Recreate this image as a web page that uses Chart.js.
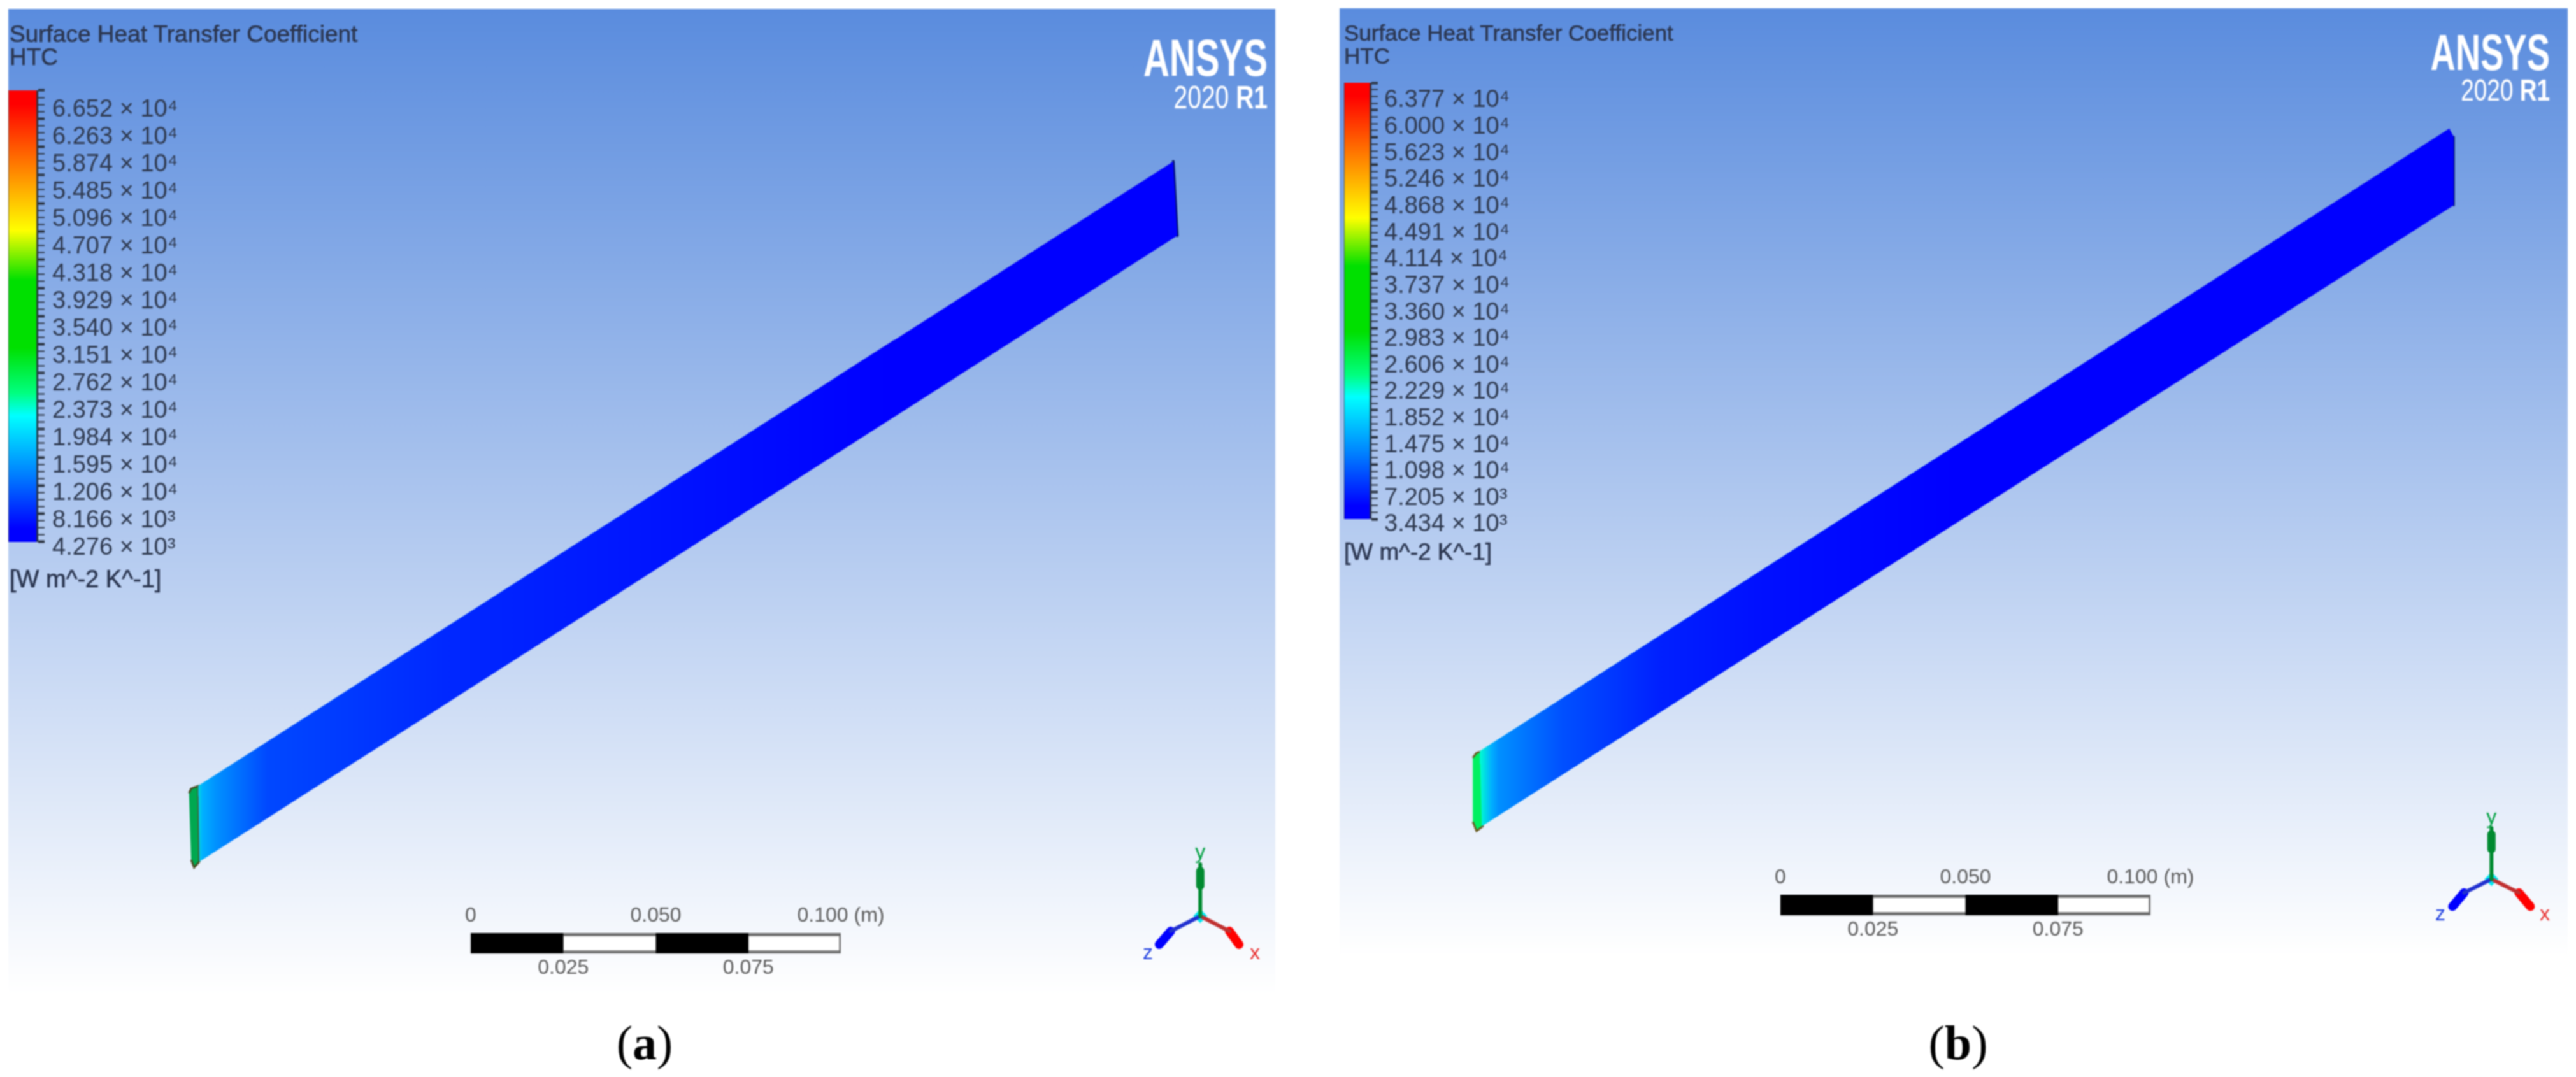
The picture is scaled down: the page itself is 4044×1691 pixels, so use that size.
<!DOCTYPE html>
<html>
<head>
<meta charset="utf-8">
<title>Surface Heat Transfer Coefficient</title>
<script src="https://cdn.jsdelivr.net/npm/chart.js@4"></script>
<style>
  html, body { margin: 0; padding: 0; background: #fff; }
  #page { position: relative; width: 4044px; height: 1691px; overflow: hidden; filter: blur(1px); }
  .panel { position: absolute; background: linear-gradient(to bottom, #5a8cde 0%, #ffffff 100%); }
  canvas { position: absolute; display: block; }
  .txt { position: absolute; white-space: nowrap; font-family: "Liberation Sans", Arial, sans-serif; color: #2b3650; line-height: 40px; -webkit-text-stroke: 0.6px #2b3650; }
  .logo { position: absolute; color: #fff; font-family: "Liberation Sans", Arial, sans-serif; white-space: nowrap; transform-origin: right center; text-align: right; }
  .cap { position: absolute; font-family: "Liberation Serif", "Times New Roman", serif; font-size: 76px; line-height: 90px; color: #000; transform: translateX(-50%); }
</style>
</head>
<body>
<div id="page"></div>
<script>
// colour bar tick labels, W m^-2 K^-1
const htcTicksA = [66520, 62630, 58740, 54850, 50960, 47070, 43180, 39290, 35400, 31510, 27620, 23730, 19840, 15950, 12060, 8166, 4276];
const htcTicksB = [63770, 60000, 56230, 52460, 48680, 44910, 41140, 37370, 33600, 29830, 26060, 22290, 18520, 14750, 10980, 7205, 3434];

// scale bar, metres
const scaleSegments = [0.025, 0.025, 0.025, 0.025];
const scaleTicksTop = [0, 0.05, 0.1];
const scaleTicksBottom = [0.025, 0.075];

// plate outlines in projected metres, origin at the lower inlet corner
const plateA = [{x: 0.0016, y: 0.0212}, {x: 0.2655, y: 0.1903}, {x: 0.2666, y: 0.1702}, {x: 0.0019, y: 0.0007}];
const plateTopBandA = [{x: 0.0016, y: 0.0212}, {x: 0.1900, y: 0.1420}, {x: 0.1900, y: 0.1392}, {x: 0.0016, y: 0.0184}];
const inletA = [{x: -0.0009, y: 0.0193}, {x: -0.0003, y: 0.0205}, {x: 0.0016, y: 0.0212}, {x: 0.0019, y: 0.0007}, {x: 0.0005, y: -0.0009}, {x: -0.0003, y: 0.0012}];
const outletEdgeA = [{x: 0.2655, y: 0.1903}, {x: 0.2666, y: 0.1702}];

const plateB = [{x: 0.0009, y: 0.0213}, {x: 0.2628, y: 0.1895}, {x: 0.2640, y: 0.1873}, {x: 0.2640, y: 0.1688}, {x: 0.0014, y: 0.0010}];
const plateTopBandB = [{x: 0.0009, y: 0.0213}, {x: 0.2300, y: 0.1685}, {x: 0.2300, y: 0.1650}, {x: 0.0009, y: 0.0178}];
const plateBottomBandB = [{x: 0.0014, y: 0.0034}, {x: 0.1600, y: 0.1048}, {x: 0.1600, y: 0.1024}, {x: 0.0014, y: 0.0010}];
const inletB = [{x: -0.0010, y: 0.0195}, {x: 0, y: 0.0208}, {x: 0.0016, y: 0.0213}, {x: 0.0017, y: 0.0010}, {x: 0, y: -0.0003}, {x: -0.0010, y: 0.0022}];
const inletCoreB = [{x: 0.0007, y: 0.0180}, {x: 0.0007, y: 0.0030}];
const outletEdgeB = [{x: 0.2640, y: 0.1873}, {x: 0.2640, y: 0.1688}];

// axis triad in the same metres
const triadCentreA = [{x: 0.2728, y: -0.0140}];
const triadYA = [{x: 0.2728, y: -0.0140}, {x: 0.2728, y: 0.0000}];
const triadYHeadA = [{x: 0.2728, y: -0.0058}, {x: 0.2728, y: -0.0018}];
const triadZA = [{x: 0.2728, y: -0.0140}, {x: 0.2648, y: -0.0181}, {x: 0.2617, y: -0.0217}];
const triadXA = [{x: 0.2728, y: -0.0140}, {x: 0.2807, y: -0.0181}, {x: 0.2833, y: -0.0217}];
const triadLabelsA = {y: {x: 0.2728, y: 0.0030}, z: {x: 0.2586, y: -0.0241}, x: {x: 0.2876, y: -0.0241}};

const triadCentreB = [{x: 0.2742, y: -0.0133}];
const triadYB = [{x: 0.2742, y: -0.0133}, {x: 0.2742, y: 0.0005}];
const triadYHeadB = [{x: 0.2742, y: -0.0052}, {x: 0.2742, y: -0.0012}];
const triadZB = [{x: 0.2742, y: -0.0133}, {x: 0.2668, y: -0.0170}, {x: 0.2637, y: -0.0207}];
const triadXB = [{x: 0.2742, y: -0.0133}, {x: 0.2816, y: -0.0170}, {x: 0.2847, y: -0.0207}];
const triadLabelsB = {y: {x: 0.2742, y: 0.0032}, z: {x: 0.2604, y: -0.0229}, x: {x: 0.2886, y: -0.0229}};

const rainbowStops = [[0, '#ff0000'], [0.03, '#ff0000'], [0.31, '#ffff00'], [0.42, '#00e000'], [0.57, '#00e000'], [0.67, '#00ff80'], [0.72, '#00ffff'], [0.85, '#0080ff'], [0.97, '#0000ff'], [1, '#0000ff']];

const plateStopsA = [[0.0016, '#00d8e0'], [0.0028, '#00b0ff'], [0.0066, '#0090ff'], [0.0203, '#0048ff'], [0.0686, '#0028ff'], [0.1376, '#0010ff'], [0.1893, '#0000ff'], [0.2666, '#0000ff']];
const topBandStopsA = [[0.0016, '#00b0ff'], [0.0686, '#0078ff'], [0.1376, '#0050ff'], [0.1900, '#0008ff']];
const plateStopsB = [[0.0009, '#00ffd0'], [0.0040, '#00b0ff'], [0.0060, '#0090ff'], [0.0232, '#0050ff'], [0.0496, '#0020ff'], [0.0761, '#0010ff'], [0.1300, '#0000ff'], [0.2640, '#0000ff']];
const topBandStopsB = [[0.0009, '#00e8ff'], [0.1000, '#00a8ff'], [0.1800, '#0060ff'], [0.2300, '#0004ff']];
const bottomBandStopsB = [[0.0014, '#00b8ff'], [0.0800, '#0068ff'], [0.1600, '#0018ff']];

const page = document.getElementById('page');

function addCanvas(left, top, width, height, parent) {
  const c = document.createElement('canvas');
  c.width = width;
  c.height = height;
  c.style.left = left + 'px';
  c.style.top = top + 'px';
  c.style.width = width + 'px';
  c.style.height = height + 'px';
  (parent || page).appendChild(c);
  return c;
}

function addText(cls, left, top, html, extra) {
  const d = document.createElement('div');
  d.className = cls;
  d.style.left = left + 'px';
  d.style.top = top + 'px';
  d.innerHTML = html;
  if (extra) Object.assign(d.style, extra);
  page.appendChild(d);
  return d;
}

// gradient running along the plate, stops given in metres
function alongPlate(stops) {
  return (ctx) => {
    const chart = ctx.chart;
    if (!chart.chartArea) return stops[0][1];
    const x0 = stops[0][0];
    const x1 = stops[stops.length - 1][0];
    const g = chart.ctx.createLinearGradient(chart.scales.x.getPixelForValue(x0), 0, chart.scales.x.getPixelForValue(x1), 0);
    stops.forEach((s) => g.addColorStop((s[0] - x0) / (x1 - x0), s[1]));
    return g;
  };
}

function shape(points, color, border) {
  return {data: points, fill: 'shape', backgroundColor: color, borderWidth: border ? 3 : 0, borderColor: border || 'transparent', pointRadius: 0, tension: 0};
}

function stroke(points, color, width) {
  return {data: points, fill: false, borderColor: color, borderWidth: width, borderCapStyle: 'round', pointRadius: 0, tension: 0};
}

const triadLetters = {
  id: 'triadLetters',
  afterDatasetsDraw(chart, args, opts) {
    const ctx = chart.ctx;
    ctx.save();
    ctx.font = '32px "Liberation Sans"';
    ctx.textAlign = 'center';
    ctx.textBaseline = 'middle';
    [['y', '#00a040'], ['z', '#2040e0'], ['x', '#e83030']].forEach(([k, col]) => {
      ctx.fillStyle = col;
      ctx.fillText(k, chart.scales.x.getPixelForValue(opts.at[k].x), chart.scales.y.getPixelForValue(opts.at[k].y));
    });
    ctx.restore();
  }
};

function plateChart(canvas, datasets, xRange, yRange, letters) {
  return new Chart(canvas, {
    type: 'line',
    data: {datasets: datasets},
    plugins: [triadLetters],
    options: {
      responsive: false,
      animation: false,
      devicePixelRatio: 1,
      layout: {padding: 0, autoPadding: false},
      plugins: {legend: {display: false}, tooltip: {enabled: false}, title: {display: false}, triadLetters: {at: letters}},
      scales: {
        x: {type: 'linear', display: false, min: xRange[0], max: xRange[1]},
        y: {type: 'linear', display: false, min: yRange[0], max: yRange[1]}
      }
    }
  });
}

function htcLabel(v) {
  return v >= 10000 ? (v / 10000).toFixed(3) + ' × 10⁴' : (v / 1000).toFixed(3) + ' × 10³';
}

function colourBar(canvas, ticks, barRange, labelRange, labelPad) {
  const minor = [];
  ticks.forEach((v, i) => {
    minor.push({value: v, major: true});
    if (i < ticks.length - 1) {
      for (let k = 1; k < 4; k++) minor.push({value: v + (ticks[i + 1] - v) * k / 4});
    }
  });
  return new Chart(canvas, {
    type: 'bar',
    data: {
      labels: ['HTC'],
      datasets: [{
        data: [[ticks[ticks.length - 1], ticks[0]]],
        barPercentage: 1,
        categoryPercentage: 1,
        borderSkipped: false,
        borderWidth: {right: 3, left: 1, top: 0, bottom: 0},
        borderColor: '#2a3340',
        backgroundColor: (ctx) => {
          const chart = ctx.chart;
          if (!chart.chartArea) return '#0000ff';
          const y = chart.scales.y;
          const g = chart.ctx.createLinearGradient(0, y.getPixelForValue(ticks[0]), 0, y.getPixelForValue(ticks[ticks.length - 1]));
          rainbowStops.forEach((s) => g.addColorStop(s[0], s[1]));
          return g;
        }
      }]
    },
    options: {
      responsive: false,
      animation: false,
      devicePixelRatio: 1,
      layout: {padding: 0, autoPadding: false},
      plugins: {legend: {display: false}, tooltip: {enabled: false}},
      scales: {
        x: {display: false},
        y: {
          position: 'right',
          min: barRange[0],
          max: barRange[1],
          afterBuildTicks: (s) => { s.ticks = minor; },
          afterFit: (s) => { s.width = 14; s.paddingTop = 0; s.paddingBottom = 0; },
          ticks: {display: false, autoSkip: false},
          border: {display: false},
          grid: {
            drawOnChartArea: false,
            tickLength: 10,
            tickColor: '#2a3340',
            tickWidth: (ctx) => (ctx.tick && ctx.tick.major ? 4 : 2)
          }
        },
        yLabels: {
          position: 'right',
          min: labelRange[0],
          max: labelRange[1],
          afterBuildTicks: (s) => { s.ticks = ticks.map((v) => ({value: v})); },
          afterFit: (s) => { s.width = 240; s.paddingTop = 0; s.paddingBottom = 0; },
          border: {display: false},
          grid: {display: false, drawTicks: false},
          ticks: {
            autoSkip: false,
            padding: labelPad,
            color: '#2f3a50',
            font: {family: '"Liberation Sans"', size: 38},
            callback: (v) => htcLabel(v)
          }
        }
      }
    }
  });
}

function scaleBar(canvas) {
  const fills = ['#000000', '#ffffff', '#000000', '#ffffff'];
  const tickFont = {family: '"Liberation Sans"', size: 32};
  return new Chart(canvas, {
    type: 'bar',
    data: {
      labels: ['scale'],
      datasets: scaleSegments.map((w, i) => ({
        data: [w],
        backgroundColor: fills[i],
        borderColor: '#6e6e6e',
        borderWidth: i % 2 ? {top: 5, bottom: 5, right: i === 3 ? 3 : 0, left: 0} : 0,
        borderSkipped: false,
        barPercentage: 1,
        categoryPercentage: 1
      }))
    },
    options: {
      indexAxis: 'y',
      responsive: false,
      animation: false,
      devicePixelRatio: 1,
      layout: {padding: {left: 100, right: 100}},
      plugins: {legend: {display: false}, tooltip: {enabled: false}},
      scales: {
        y: {display: false, stacked: true},
        x: {
          position: 'top',
          stacked: true,
          min: 0,
          max: 0.1,
          afterBuildTicks: (s) => { s.ticks = scaleTicksTop.map((v) => ({value: v})); },
          afterFit: (s) => { s.height = 50; },
          border: {display: false},
          grid: {display: false, drawTicks: false},
          ticks: {
            autoSkip: false,
            maxRotation: 0,
            padding: 8,
            color: '#5a5a5a',
            font: tickFont,
            callback: (v) => (v === 0 ? '0' : v === 0.1 ? v.toFixed(3) + ' (m)' : v.toFixed(3))
          }
        },
        xLower: {
          position: 'bottom',
          min: 0,
          max: 0.1,
          afterBuildTicks: (s) => { s.ticks = scaleTicksBottom.map((v) => ({value: v})); },
          afterFit: (s) => { s.height = 48; },
          border: {display: false},
          grid: {display: false, drawTicks: false},
          ticks: {
            autoSkip: false,
            maxRotation: 0,
            padding: 4,
            color: '#5a5a5a',
            font: tickFont,
            callback: (v) => v.toFixed(3)
          }
        }
      }
    }
  });
}

// panel backgrounds go in first so the charts sit on top
function addPanel(left, top, width, height) {
  const d = document.createElement('div');
  d.className = 'panel';
  Object.assign(d.style, {left: left + 'px', top: top + 'px', width: width + 'px', height: height + 'px'});
  page.appendChild(d);
}

addPanel(13, 14, 1989, 1546);
addPanel(2103, 13, 1928, 1487);

// (a)
plateChart(addCanvas(13, 14, 1989, 1546), [
  shape(plateA, alongPlate(plateStopsA)),
  shape(plateTopBandA, alongPlate(topBandStopsA)),
  shape(inletA, '#00a850', '#4a4a20'),
  stroke(outletEdgeA, '#001060', 4),
  stroke(triadYA, '#008a30', 6),
  stroke(triadYHeadA, '#008a30', 13),
  stroke(triadZA.slice(0, 2), '#2030d0', 6),
  stroke(triadZA.slice(1), '#0000ff', 14),
  stroke(triadXA.slice(0, 2), '#c03030', 6),
  stroke(triadXA.slice(1), '#ff0000', 14),
  {data: triadCentreA, showLine: false, pointStyle: 'rectRot', pointRadius: 11, pointBackgroundColor: '#00e8f0', pointBorderWidth: 0}
], [-0.0498, 0.2931], [-0.0350, 0.2316], triadLabelsA);

colourBar(addCanvas(13, 120, 47 + 254, 760), htcTicksA, [1730, 68451], [2557, 71315], 8);
scaleBar(addCanvas(639, 1415, 781, 130));

addText('txt', 15, 34, 'Surface Heat Transfer Coefficient', {fontSize: '37px'});
addText('txt', 15, 70, 'HTC', {fontSize: '37px'});
addText('txt', 15, 889, '[W m^-2 K^-1]', {fontSize: '38px'});
addText('logo', 1690, 50, '<b>ANSYS</b>', {width: '300px', fontSize: '82px', lineHeight: '82px', transform: 'scaleX(0.69)'});
addText('logo', 1690, 125, '2020 <b>R1</b>', {width: '300px', fontSize: '50px', lineHeight: '56px', transform: 'scaleX(0.78)'});
addText('cap', 1012, 1592, '(<b>a</b>)');

// (b)
plateChart(addCanvas(2103, 13, 1928, 1487), [
  shape(plateB, alongPlate(plateStopsB)),
  shape(plateTopBandB, alongPlate(topBandStopsB)),
  shape(plateBottomBandB, alongPlate(bottomBandStopsB)),
  shape(inletB, '#00f060', '#6a5a20'),
  stroke(inletCoreB, '#007040', 6),
  stroke(outletEdgeB, '#001060', 3),
  stroke(triadYB, '#008a30', 6),
  stroke(triadYHeadB, '#008a30', 13),
  stroke(triadZB.slice(0, 2), '#2030d0', 6),
  stroke(triadZB.slice(1), '#0000ff', 14),
  stroke(triadXB.slice(0, 2), '#c03030', 6),
  stroke(triadXB.slice(1), '#ff0000', 14),
  {data: triadCentreB, showLine: false, pointStyle: 'rectRot', pointRadius: 11, pointBackgroundColor: '#00e8f0', pointBorderWidth: 0}
], [-0.0370, 0.2948], [-0.0339, 0.2220], triadLabelsB);

colourBar(addCanvas(2110, 110, 43 + 254, 730), htcTicksB, [1232, 65532], [1985, 68118], 6);
scaleBar(addCanvas(2695, 1355, 781, 130));

addText('txt', 2110, 32, 'Surface Heat Transfer Coefficient', {fontSize: '35px'});
addText('txt', 2110, 68, 'HTC', {fontSize: '35px'});
addText('txt', 2110, 847, '[W m^-2 K^-1]', {fontSize: '37px'});
addText('logo', 3703, 43, '<b>ANSYS</b>', {width: '300px', fontSize: '80px', lineHeight: '80px', transform: 'scaleX(0.68)'});
addText('logo', 3703, 115, '2020 <b>R1</b>', {width: '300px', fontSize: '48px', lineHeight: '54px', transform: 'scaleX(0.77)'});
addText('cap', 3074, 1592, '(<b>b</b>)');
</script>
</body>
</html>
